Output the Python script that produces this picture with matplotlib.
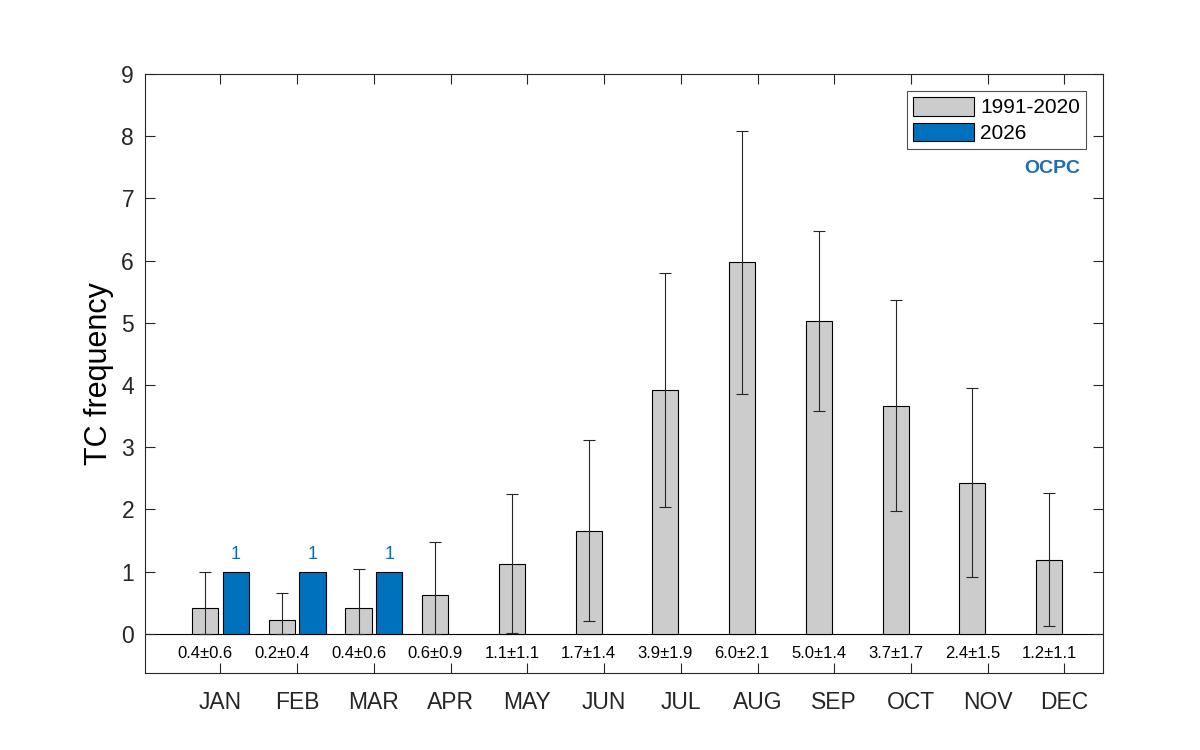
import matplotlib
matplotlib.use("Agg")
import matplotlib.pyplot as plt
import numpy as np

plt.rcParams['font.family'] = ['Liberation Sans', 'DejaVu Sans']

months = ['JAN', 'FEB', 'MAR', 'APR', 'MAY', 'JUN', 'JUL', 'AUG', 'SEP', 'OCT', 'NOV', 'DEC']
clim_mean = [0.41, 0.22, 0.42, 0.62, 1.13, 1.66, 3.92, 5.97, 5.03, 3.67, 2.43, 1.19]
clim_std = [0.58, 0.43, 0.62, 0.86, 1.11, 1.45, 1.88, 2.11, 1.45, 1.69, 1.52, 1.07]
obs_2026 = [1, 1, 1, 0, 0, 0, 0, 0, 0, 0, 0, 0]
labels_txt = ['0.4±0.6', '0.2±0.4', '0.4±0.6', '0.6±0.9', '1.1±1.1', '1.7±1.4',
              '3.9±1.9', '6.0±2.1', '5.0±1.4', '3.7±1.7', '2.4±1.5', '1.2±1.1']

gray = '#CCCCCC'
blue = '#0072BD'
axc = '#262626'

fig = plt.figure(figsize=(12, 7.5), dpi=100)
ax = fig.add_axes([0.121, 0.1027, 0.798, 0.7986])

x = np.arange(1, 13)
w = 0.34
off = 0.2
mean = np.array(clim_mean)
std = np.array(clim_std)
lower = np.minimum(std, mean)

ax.bar(x - off, mean, width=w, color=gray, edgecolor='black', linewidth=0.8,
       label='1991-2020', zorder=2)
obs = np.array(obs_2026)
mask = obs > 0
ax.bar(x[mask] + off, obs[mask], width=w, color=blue, edgecolor='black', linewidth=0.8,
       label='2026', zorder=2)
ax.errorbar(x - off, mean, yerr=[lower, std], fmt='none', ecolor='#262626',
            elinewidth=0.8, capsize=4, capthick=0.8, zorder=3)

for xi, v in zip(x[mask], obs[mask]):
    ax.text(xi + off, v + 0.14, f'{v:d}', color=blue, ha='center', va='bottom', fontsize=13)

for xi, t in zip(x, labels_txt):
    ax.text(xi - off, -0.31, t, ha='center', va='center', fontsize=12, color='black')

ax.axhline(0, color='black', linewidth=0.8, zorder=1)

ax.set_xlim(0.02, 12.5)
ax.set_ylim(-0.63, 9)
ax.set_yticks(range(0, 10))
ax.set_xticks(x)
ax.set_xticklabels(months)
ax.tick_params(axis='x', direction='in', top=True, bottom=True, length=7, width=0.8,
               labelsize=16.5, pad=13, colors=axc)
ax.tick_params(axis='y', direction='in', left=True, right=True, length=7, width=0.8,
               labelsize=16.5, pad=8, colors=axc)
for s in ax.spines.values():
    s.set_color(axc)
    s.set_linewidth(0.8)
ax.set_ylabel('TC frequency', fontsize=22, color='black', labelpad=5)

leg = ax.legend(loc='upper right', fontsize=15, frameon=True, fancybox=False,
                edgecolor=axc, handlelength=2.9, handleheight=1.0,
                borderaxespad=0.8, borderpad=0.3, labelspacing=0.25, handletextpad=0.3)
leg.get_frame().set_linewidth(0.8)

ax.text(0.976, 0.843, 'OCPC', transform=ax.transAxes, ha='right', va='center',
        fontsize=14, fontweight='bold', color='#1b6fb8')

fig.savefig('out.png', dpi=100)
